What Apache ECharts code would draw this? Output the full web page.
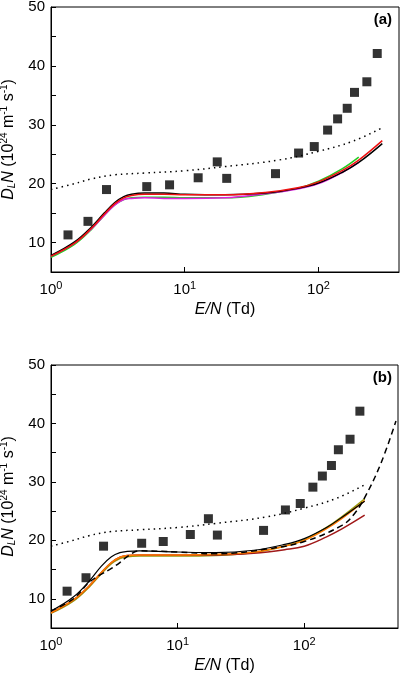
<!DOCTYPE html>
<html><head><meta charset="utf-8">
<script src="https://cdn.jsdelivr.net/npm/echarts@6/dist/echarts.min.js"></script>
<style>html,body{margin:0;padding:0;background:#fff}#c{width:400px;height:678px}</style>
</head><body><div id="c"></div>
<script>
// Experimental points (both panels)
const expX = [1.34,1.89,2.6,5.2,7.7,12.6,17.5,20.6,47.7,71,93,117,139,164,186,230,275];
const expY = [11.3,13.6,19.0,19.5,19.8,21.0,23.7,20.9,21.7,25.2,26.3,29.1,31.0,32.8,35.5,37.3,42.1];
// Dotted curve (both panels)
const dotX = [1,1.5,2,3,5,10,20,50,100,180,300];
const dotY = [19.0,20.0,20.8,21.5,21.8,22.2,22.9,24.0,25.5,27.2,29.5];
// Panel (a) solid curves
const aX = [1,1.5,2,2.5,3,3.5,4,5,7,10,20,40,70,100,150,200,300];
const aBlack = [7.8,10.1,12.6,15.0,16.8,17.8,18.2,18.4,18.4,18.2,18.1,18.4,19.2,20.1,21.9,23.6,26.8];
const aRed   = [7.7,9.9,12.4,14.8,16.6,17.6,18.0,18.2,18.2,18.1,18.1,18.5,19.3,20.3,22.2,24.0,27.3];
const aX2 = [1,1.5,2,2.5,3,3.5,4,5,7,10,20,40,70,100,150,200];
const aGreen   = [7.5,9.7,12.2,14.6,16.4,17.3,17.6,17.7,17.7,17.6,17.6,18.2,19.2,20.4,22.5,24.5];
const aMagenta = [7.7,9.9,12.3,14.6,16.4,17.3,17.5,17.6,17.5,17.5,17.6,18.3,19.1,20.0,21.9,23.6];
// Panel (b) curves
const bX = [1,1.5,2,2.5,3,3.5,4,5,7,10,20,40,70,100,150,200,300];
const bBlack  = [7.9,10.3,13.0,15.6,17.2,17.9,18.1,18.2,18.1,18.0,17.9,18.3,19.3,20.3,22.2,24.0,26.7];
const bOrange = [7.6,9.8,12.2,14.5,16.2,17.1,17.4,17.5,17.5,17.5,17.6,18.0,19.0,20.0,22.0,23.8,26.8];
const bOlive  = [7.5,9.6,12.0,14.3,16.0,16.9,17.2,17.3,17.3,17.3,17.4,17.9,19.0,20.1,22.2,24.1,27.1];
const bBrown  = [7.6,9.8,12.2,14.5,16.2,17.1,17.4,17.5,17.5,17.5,17.5,17.8,18.4,19.0,20.6,22.0,24.3];
const dashX = [1,1.5,2,2.5,3,3.5,4,5,10,20,50,100,200,250,300,400,530];
const dashY = [7.9,10.0,12.8,14.2,15.2,16.2,17.2,18.2,18.0,17.7,18.5,19.8,22.6,24.6,27.3,33.0,40.4];

const pairs = (xs, ys) => xs.map((x, i) => [x, ys[i]]);
const FONT = 'Liberation Sans';

function xAxis(gi, max) {
  return {
    type: 'log', logBase: 10, min: 1, max: max, gridIndex: gi,
    name: '{i|E/N} (Td)', nameLocation: 'middle', nameGap: 30,
    nameTextStyle: {fontFamily: FONT, fontSize: 16, color: '#000', rich: {i: {fontStyle: 'italic', fontFamily: FONT, fontSize: 16}}},
    axisLine: {lineStyle: {color: '#000'}},
    axisTick: {inside: true, lineStyle: {color: '#000'}},
    splitLine: {show: false},
    axisLabel: {
      showMaxLabel: false, color: '#000', fontFamily: FONT, fontSize: 15, margin: 8,
      formatter: v => { const e = Math.round(Math.log10(v)); return Math.abs(Math.log10(v) - e) < 1e-6 ? '10{s|' + e + '}' : ''; },
      rich: {s: {fontSize: 11, verticalAlign: 'top', padding: [0, 0, 8, 0], fontFamily: FONT}}
    }
  };
}
function yAxis(gi) {
  return {
    type: 'value', min: 5, max: 50, interval: 5, gridIndex: gi,
    name: '{i|D}{sub|L}{i|N} (10{sup|24} m{sup|-1} s{sup|-1})',
    nameLocation: 'middle', nameGap: 28, nameRotate: 90,
    nameTextStyle: {fontFamily: FONT, fontSize: 16, color: '#000',
      rich: {i: {fontStyle: 'italic', fontFamily: FONT, fontSize: 16},
             sub: {fontStyle: 'italic', fontFamily: FONT, fontSize: 10, padding: [8, 0, 0, 0]},
             sup: {fontFamily: FONT, fontSize: 10, padding: [0, 0, 8, 0]}}},
    axisLine: {show: true, lineStyle: {color: '#000'}},
    axisTick: {inside: true, lineStyle: {color: '#000'}},
    splitLine: {show: false},
    axisLabel: {color: '#000', fontFamily: FONT, fontSize: 15, margin: 6,
      formatter: v => (v % 10 === 0 ? String(v) : '')}
  };
}
function line(gi, xs, ys, color, extra) {
  return Object.assign({type: 'line', xAxisIndex: gi, yAxisIndex: gi, data: pairs(xs, ys),
    smooth: 0.4, showSymbol: false, lineStyle: {color: color, width: 1.5}, itemStyle: {color: color}, z: 3}, extra || {});
}
function scatter(gi) {
  return {type: 'scatter', xAxisIndex: gi, yAxisIndex: gi, data: pairs(expX, expY), symbol: 'rect', symbolSize: 9, itemStyle: {color: '#000'}, z: 5};
}
function dotted(gi) {
  return line(gi, dotX, dotY, '#000', {lineStyle: {color: '#000', width: 1.5, type: [1.5, 4]}});
}

const chart = echarts.init(document.getElementById('c'));
chart.setOption({
  animation: false,
  grid: [
    {left: 51, top: 7, width: 348, height: 265, show: true, borderColor: '#000', borderWidth: 1, outerBoundsMode: 'none', containLabel: false},
    {left: 51, top: 365, width: 347, height: 263, show: true, borderColor: '#000', borderWidth: 1, outerBoundsMode: 'none', containLabel: false}
  ],
  xAxis: [xAxis(0, 400), xAxis(1, 550)],
  yAxis: [yAxis(0), yAxis(1)],
  graphic: [
    {type: 'text', right: 8, top: 12, style: {text: '(a)', font: 'bold 15px "Liberation Sans"', fill: '#000'}},
    {type: 'text', right: 8, top: 370, style: {text: '(b)', font: 'bold 15px "Liberation Sans"', fill: '#000'}}
  ],
  series: [
    dotted(0),
    line(0, aX2, aGreen, '#22cc22'),
    line(0, aX2, aMagenta, '#e020e0'),
    line(0, aX, aBlack, '#000'),
    line(0, aX, aRed, '#ee1111'),
    scatter(0),
    dotted(1),
    line(1, bX, bOlive, '#9a9a10'),
    line(1, bX, bBrown, '#a01818'),
    line(1, bX, bOrange, '#ff7a00'),
    line(1, bX, bBlack, '#000', {lineStyle: {color: '#000', width: 1.2}}),
    line(1, dashX, dashY, '#000', {lineStyle: {color: '#000', width: 1.5, type: [6, 4]}}),
    scatter(1)
  ]
});
</script></body></html>
